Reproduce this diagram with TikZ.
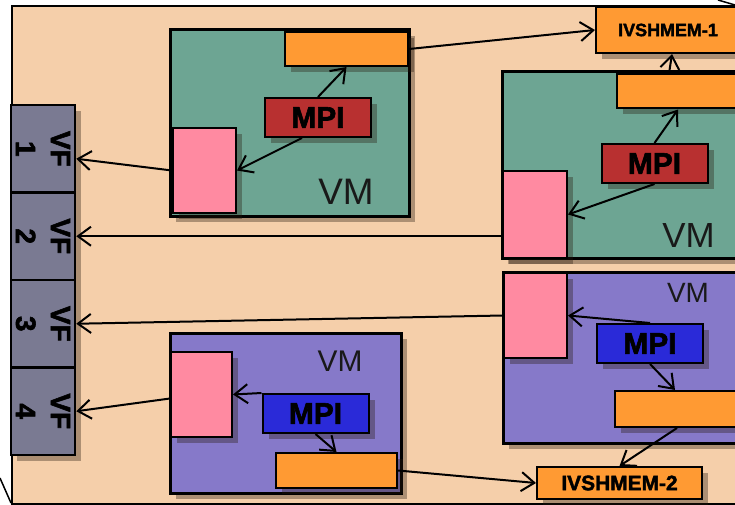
\documentclass[tikz,border=0pt]{standalone}
\usepackage{fontspec}
\setmainfont{Liberation Sans}[BoldFeatures={FakeBold=2}]
\setsansfont{Liberation Sans}[BoldFeatures={FakeBold=2}]
\usetikzlibrary{arrows.meta,shadows,calc}

\definecolor{peach}{HTML}{F5CFAA}
\definecolor{vmgreen}{HTML}{6DA593}
\definecolor{vmpurple}{HTML}{8679C9}
\definecolor{shmorange}{HTML}{FF9A33}
\definecolor{nicpink}{HTML}{FF8AA1}
\definecolor{mpired}{HTML}{B83030}
\definecolor{mpiblue}{HTML}{2A2AD8}
\definecolor{vfgray}{HTML}{7A7A92}

\begin{document}
\begin{tikzpicture}[x=1bp, y=-1bp, >={Straight Barb[length=13bp,width=19bp]}]
    \tikzset{
        box/.style={draw, rectangle, inner sep=0pt, line width=2bp, drop shadow={shadow xshift=6bp, shadow yshift=-6bp, opacity=0.35, fill=black!80!brown}},
        vmbox/.style={box, line width=3bp},
        greenvm/.style={vmbox, fill=vmgreen},
        purplevm/.style={vmbox, fill=vmpurple},
        shm/.style={box, fill=shmorange},
        nic/.style={box, fill=nicpink},
        mpi/.style={box, minimum width=106bp, minimum height=39bp, font=\fontsize{30}{30}\bfseries},
        vfbox/.style={box, line width=2.5bp, fill=vfgray, minimum width=64bp, minimum height=87.5bp},
        vftext/.style={rotate=-90, align=center, inner sep=0pt, font=\fontsize{28}{35}\bfseries},
        ivshmem/.style={box, fill=shmorange, font=\bfseries},
        vmlabel/.style={inner sep=0pt, text=black!90},
        line/.style={draw, ->, line width=2bp}
    }
    \useasboundingbox (0,0) rectangle (735,505);
    \clip (0,0) rectangle (735,505);

    % Host background and cut-off fragments
    \node[draw, line width=2bp, fill=peach, inner sep=0pt, anchor=north west, minimum width=740bp, minimum height=498bp] (host) at (11,5) {};
    \draw[line width=1.5bp] (0,478) -- (11,503);
    \draw[line width=1.5bp] (718,0) -- (735,5);

    % Virtual functions
    \foreach \i in {1,...,4} {
        \node[vfbox] (vf\i) at (43, {105+87.5*(\i-0.5)}) {};
        \node[vftext] (vft\i) at (vf\i) {VF\\\i};
    }

    % Shared memory regions
    \node[ivshmem, minimum width=144bp, minimum height=46bp, font=\fontsize{18}{18}\bfseries] (ivs1) at (668,30) {IVSHMEM-1};
    \node[ivshmem, minimum width=165bp, minimum height=32bp, font=\fontsize{21}{21}\bfseries] (ivs2) at (619.5,483) {IVSHMEM-2};

    % VM 1 (top left)
    \node[greenvm, minimum width=239bp, minimum height=186bp] (vm1) at (289.5,123) {};
    \node[shm, minimum width=123bp, minimum height=34bp] (shm1) at (346.5,49) {};
    \node[mpi, fill=mpired] (mpi1) at (318,117.5) {MPI};
    \node[nic, minimum width=63bp, minimum height=85bp] (nic1) at (204.5,170.5) {};
    \node[vmlabel, font=\fontsize{37}{37}\selectfont] (vm1lbl) at (346,191.5) {VM};

    % VM 2 (top right)
    \node[greenvm, minimum width=243bp, minimum height=186bp] (vm2) at (623.5,165) {};
    \node[shm, minimum width=128bp, minimum height=34bp] (shm2) at (681,91.5) {};
    \node[mpi, fill=mpired] (mpi2) at (654.5,163.5) {MPI};
    \node[nic, minimum width=64bp, minimum height=87bp] (nic2) at (535,214.5) {};
    \node[vmlabel, font=\fontsize{35}{35}\selectfont] (vm2lbl) at (688.5,235.5) {VM};

    % VM 3 (bottom right)
    \node[purplevm, minimum width=242bp, minimum height=170bp] (vm3) at (624,358) {};
    \node[nic, minimum width=63bp, minimum height=85bp] (nic3) at (535.5,315.5) {};
    \node[mpi, fill=mpiblue] (mpi3) at (650,343.5) {MPI};
    \node[shm, minimum width=130bp, minimum height=36bp] (shm3) at (680,409) {};
    \node[vmlabel, font=\fontsize{28}{28}\selectfont] (vm3lbl) at (688,293) {VM};

    % VM 4 (bottom left)
    \node[purplevm, minimum width=231bp, minimum height=160bp] (vm4) at (285.5,413) {};
    \node[nic, minimum width=61bp, minimum height=85bp] (nic4) at (201.5,394.5) {};
    \node[mpi, fill=mpiblue] (mpi4) at (315.5,413.5) {MPI};
    \node[shm, minimum width=121bp, minimum height=35bp] (shm4) at (336.5,470.5) {};
    \node[vmlabel, font=\fontsize{30}{30}\selectfont] (vm4lbl) at (340,361) {VM};

    % Connections inside and out of VM 1
    \path[line] (mpi1.north) -- (shm1.south);
    \path[line] ([xshift=-16bp]mpi1.south) -- (nic1.east);
    \path[line] (nic1.west) -- ([yshift=-10bp]vf1.east);
    \path[line] (shm1.east) -- (ivs1.west);

    % Connections inside and out of VM 2
    \path[line] (mpi2.north) -- ([xshift=-3bp]shm2.south);
    \path[line] (mpi2.south) -- (nic2.east);
    \path[line] ([xshift=-12bp]shm2.north) -- ([xshift=4bp]ivs1.south);
    \path[line] (nic2.west |- vf2.east) -- (vf2.east);

    % Connections inside and out of VM 3
    \path[line] (mpi3.north) -- (nic3.east);
    \path[line] (mpi3.south) -- ([xshift=-5bp]shm3.north);
    \path[line] ([xshift=-3bp]shm3.south) -- (ivs2.north);
    \path[line] (nic3.west) -- (vf3.east);

    % Connections inside and out of VM 4
    \path[line] (mpi4.north west) -- (nic4.east);
    \path[line] (mpi4.south) -- (shm4.north);
    \path[line] (shm4.east) -- (ivs2.west);
    \path[line] ([yshift=-4bp]nic4.west) -- (vf4.east);

\end{tikzpicture}
\end{document}
